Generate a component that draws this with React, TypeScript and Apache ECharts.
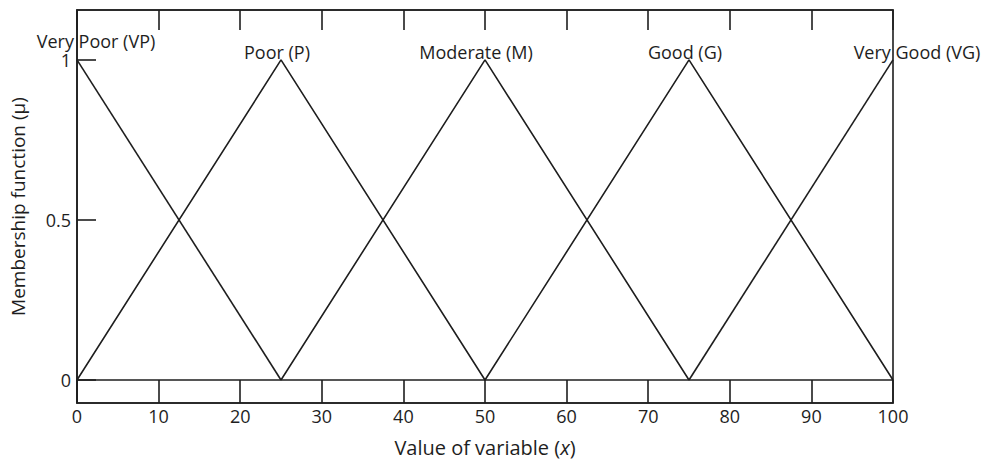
import React, { useEffect, useRef } from "react";
import * as echarts from "echarts";

const setNames = ["Very Poor (VP)", "Poor (P)", "Moderate (M)", "Good (G)", "Very Good (VG)"];
const vpX = [0, 25];
const vpY = [1, 0];
const pX = [0, 25, 50];
const pY = [0, 1, 0];
const mX = [25, 50, 75];
const mY = [0, 1, 0];
const gX = [50, 75, 100];
const gY = [0, 1, 0];
const vgX = [75, 100];
const vgY = [0, 1];
const yTicks = [0, 0.5, 1];

const seriesX = [vpX, pX, mX, gX, vgX];
const seriesY = [vpY, pY, mY, gY, vgY];
const labelOffsets = [[19, -5], [-4, 6], [-9, 6], [-4, 6], [24, 6]];

const INK = "#1e1e1e";
const FONT = "Open Sans";

export default function App() {
  const ref = useRef<HTMLDivElement>(null);
  useEffect(() => {
    if (!ref.current) return;
    const chart = echarts.init(ref.current, undefined, { renderer: "svg" });
    const series: any[] = setNames.map((name, si) => {
      const xs = seriesX[si];
      const ys = seriesY[si];
      const data = xs.map((x, i) => {
        const item: any = { value: [x, ys[i]] };
        if (ys[i] === 1) {
          item.label = {
            show: true,
            formatter: name,
            position: "top",
            offset: labelOffsets[si],
            color: INK,
            fontFamily: FONT,
            fontSize: 18,
            lineHeight: 18,
          };
        }
        return item;
      });
      return {
        type: "line",
        name,
        data,
        symbol: "circle",
        symbolSize: 0,
        showSymbol: true,
        lineStyle: { color: INK, width: 1.6 },
        itemStyle: { color: INK },
        label: { show: false },
        z: 3,
      };
    });
    series[0].markLine = {
      silent: true,
      symbol: "none",
      label: { show: false },
      lineStyle: { color: INK, width: 1.6, type: "solid" },
      data: [{ yAxis: 0 }],
    };
    chart.setOption({
      animation: false,
      grid: {
        left: 77,
        right: 92,
        top: 10,
        bottom: 60,
        show: true,
        borderColor: INK,
        borderWidth: 1.6,
        containLabel: false,
        outerBoundsMode: "none",
      },
      xAxis: [
        {
          type: "value",
          min: 0,
          max: 100,
          interval: 10,
          position: "bottom",
          splitLine: { show: false },
          axisLine: { show: true, onZero: false, lineStyle: { color: INK, width: 1.6 } },
          axisTick: { show: true, inside: true, length: 23, lineStyle: { color: INK, width: 1.6 } },
          axisLabel: { color: INK, fontFamily: FONT, fontSize: 18, margin: 4 },
          name: "Value of variable ({i|x})",
          nameLocation: "middle",
          nameGap: 34,
          nameTextStyle: {
            color: INK,
            fontFamily: FONT,
            fontSize: 20,
            rich: { i: { fontStyle: "italic", fontFamily: FONT, fontSize: 20, color: INK } },
          },
        },
        {
          type: "value",
          min: 0,
          max: 100,
          interval: 10,
          position: "top",
          splitLine: { show: false },
          axisLine: { show: true, onZero: false, lineStyle: { color: INK, width: 1.6 } },
          axisTick: { show: true, inside: true, length: 20, lineStyle: { color: INK, width: 1.6 } },
          axisLabel: { show: false },
        },
      ],
      yAxis: {
        type: "value",
        min: -0.072,
        max: 1.156,
        splitLine: { show: false },
        axisLine: { show: true, onZero: false, lineStyle: { color: INK, width: 1.6 } },
        axisTick: {
          show: true,
          inside: true,
          length: 19,
          customValues: yTicks,
          lineStyle: { color: INK, width: 1.6 },
        },
        axisLabel: {
          color: INK,
          fontFamily: FONT,
          fontSize: 18,
          lineHeight: 14,
          margin: 6,
          customValues: yTicks,
          formatter: (v: number) => String(v),
        },
        name: "Membership function (μ)",
        nameLocation: "middle",
        nameRotate: 90,
        nameGap: 50,
        nameTextStyle: { color: INK, fontFamily: FONT, fontSize: 19 },
      },
      series,
    });
    return () => chart.dispose();
  }, []);
  return <div ref={ref} style={{ width: 985, height: 463, position: "absolute", left: 0, top: 0 }} />;
}
